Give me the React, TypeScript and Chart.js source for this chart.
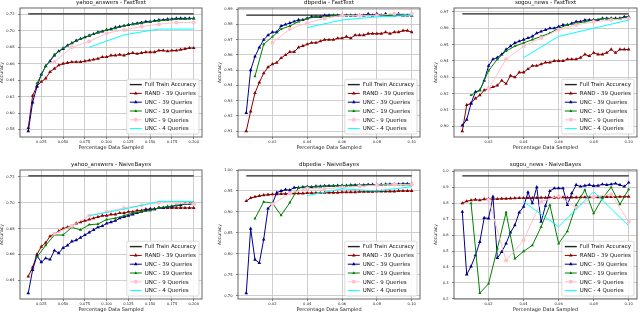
import React, { useEffect, useRef } from 'react';
import { Chart, registerables } from 'chart.js';

Chart.register(...registerables);
Chart.defaults.font.family = '"DejaVu Sans", sans-serif';

// ---------- x values (fraction of data sampled) ----------
const X39_YAHOO = [0.01, 0.015, 0.02, 0.025, 0.03, 0.035, 0.04, 0.045, 0.05, 0.055, 0.06, 0.065, 0.07, 0.075, 0.08, 0.085, 0.09, 0.095, 0.1, 0.105, 0.11, 0.115, 0.12, 0.125, 0.13, 0.135, 0.14, 0.145, 0.15, 0.155, 0.16, 0.165, 0.17, 0.175, 0.18, 0.185, 0.19, 0.195, 0.2];
const X19_YAHOO = [0.02, 0.03, 0.04, 0.05, 0.06, 0.07, 0.08, 0.09, 0.1, 0.11, 0.12, 0.13, 0.14, 0.15, 0.16, 0.17, 0.18, 0.19, 0.2];
const X9_YAHOO = [0.04, 0.06, 0.08, 0.1, 0.12, 0.14, 0.16, 0.18, 0.2];
const X4_YAHOO = [0.08, 0.12, 0.16, 0.2];

const X39_SMALL = [0.005, 0.0075, 0.01, 0.0125, 0.015, 0.0175, 0.02, 0.0225, 0.025, 0.0275, 0.03, 0.0325, 0.035, 0.0375, 0.04, 0.0425, 0.045, 0.0475, 0.05, 0.0525, 0.055, 0.0575, 0.06, 0.0625, 0.065, 0.0675, 0.07, 0.0725, 0.075, 0.0775, 0.08, 0.0825, 0.085, 0.0875, 0.09, 0.0925, 0.095, 0.0975, 0.1];
const X19_SMALL = [0.01, 0.015, 0.02, 0.025, 0.03, 0.035, 0.04, 0.045, 0.05, 0.055, 0.06, 0.065, 0.07, 0.075, 0.08, 0.085, 0.09, 0.095, 0.1];
const X9_SMALL = [0.02, 0.03, 0.04, 0.05, 0.06, 0.07, 0.08, 0.09, 0.1];
const X4_SMALL = [0.04, 0.06, 0.08, 0.1];

// ---------- tick labels ----------
const XTICKS_YAHOO = [0.025, 0.05, 0.075, 0.1, 0.125, 0.15, 0.175, 0.2];
const XTICKS_SMALL = [0.02, 0.04, 0.06, 0.08, 0.1];
const YTICKS_YAHOO_FT = [0.58, 0.6, 0.62, 0.64, 0.66, 0.68, 0.7, 0.72];
const YTICKS_DBPEDIA_FT = [0.91, 0.92, 0.93, 0.94, 0.95, 0.96, 0.97, 0.98, 0.99];
const YTICKS_SOGOU_FT = [0.9, 0.91, 0.92, 0.93, 0.94, 0.95, 0.96, 0.97];
const YTICKS_YAHOO_NB = [0.64, 0.66, 0.68, 0.7, 0.72];
const YTICKS_DBPEDIA_NB = [0.7, 0.75, 0.8, 0.85, 0.9, 0.95, 1.0];
const YTICKS_SOGOU_NB = [0.2, 0.3, 0.4, 0.5, 0.6, 0.7, 0.8, 0.9, 1.0];

const SERIES_LABELS = ['Full Train Accuracy', 'RAND - 39 Queries', 'UNC - 39 Queries', 'UNC - 19 Queries', 'UNC - 9 Queries', 'UNC - 4 Queries'];

// ---------- yahoo_answers - FastText ----------
const YAHOO_FT_FULL = 0.7205;
const YAHOO_FT_RAND = [0.582, 0.621, 0.633, 0.638, 0.642, 0.650, 0.654, 0.658, 0.660, 0.661, 0.662, 0.662, 0.662, 0.663, 0.664, 0.665, 0.666, 0.668, 0.668, 0.670, 0.670, 0.671, 0.670, 0.672, 0.673, 0.672, 0.673, 0.674, 0.674, 0.674, 0.676, 0.676, 0.675, 0.676, 0.676, 0.677, 0.678, 0.679, 0.679];
const YAHOO_FT_UNC39 = [0.578, 0.613, 0.632, 0.647, 0.657, 0.663, 0.670, 0.675, 0.678, 0.682, 0.685, 0.688, 0.690, 0.692, 0.694, 0.696, 0.698, 0.699, 0.701, 0.702, 0.704, 0.705, 0.706, 0.707, 0.708, 0.709, 0.710, 0.711, 0.711, 0.712, 0.713, 0.713, 0.714, 0.714, 0.715, 0.715, 0.715, 0.715, 0.715];
const YAHOO_FT_UNC19 = [0.636, 0.657, 0.671, 0.679, 0.685, 0.690, 0.694, 0.698, 0.701, 0.703, 0.706, 0.708, 0.709, 0.711, 0.712, 0.713, 0.714, 0.714, 0.715];
const YAHOO_FT_UNC9 = [0.662, 0.680, 0.687, 0.697, 0.701, 0.705, 0.708, 0.710, 0.710];
const YAHOO_FT_UNC4 = [0.680, 0.695, 0.702, 0.702];

// ---------- dbpedia - FastText ----------
const DBPEDIA_FT_FULL = 0.9862;
const DBPEDIA_FT_RAND = [0.910, 0.923, 0.935, 0.942, 0.948, 0.952, 0.954, 0.955, 0.958, 0.960, 0.962, 0.962, 0.965, 0.966, 0.967, 0.968, 0.968, 0.969, 0.970, 0.970, 0.970, 0.971, 0.971, 0.972, 0.971, 0.973, 0.973, 0.973, 0.974, 0.974, 0.974, 0.974, 0.975, 0.974, 0.975, 0.975, 0.976, 0.976, 0.975];
const DBPEDIA_FT_UNC39 = [0.922, 0.950, 0.959, 0.965, 0.970, 0.973, 0.975, 0.975, 0.979, 0.980, 0.981, 0.982, 0.983, 0.983, 0.984, 0.985, 0.985, 0.985, 0.986, 0.986, 0.986, 0.986, 0.986, 0.986, 0.986, 0.986, 0.986, 0.986, 0.987, 0.986, 0.987, 0.986, 0.987, 0.986, 0.986, 0.987, 0.986, 0.986, 0.986];
const DBPEDIA_FT_UNC19 = [0.946, 0.967, 0.972, 0.977, 0.979, 0.982, 0.984, 0.985, 0.985, 0.986, 0.986, 0.986, 0.986, 0.986, 0.986, 0.986, 0.986, 0.986, 0.986];
const DBPEDIA_FT_UNC9 = [0.968, 0.977, 0.981, 0.984, 0.986, 0.986, 0.986, 0.987, 0.987];
const DBPEDIA_FT_UNC4 = [0.978, 0.983, 0.985, 0.986];

// ---------- sogou_news - FastText ----------
const SOGOU_FT_FULL = 0.9688;
const SOGOU_FT_RAND = [0.897, 0.913, 0.914, 0.917, 0.919, 0.922, 0.923, 0.924, 0.925, 0.928, 0.926, 0.931, 0.930, 0.933, 0.933, 0.935, 0.937, 0.937, 0.938, 0.939, 0.939, 0.940, 0.940, 0.940, 0.941, 0.941, 0.941, 0.942, 0.944, 0.943, 0.945, 0.944, 0.944, 0.945, 0.947, 0.945, 0.947, 0.947, 0.947];
const SOGOU_FT_UNC39 = [0.9005, 0.904, 0.914, 0.921, 0.922, 0.928, 0.937, 0.941, 0.942, 0.944, 0.947, 0.949, 0.951, 0.952, 0.953, 0.954, 0.955, 0.957, 0.958, 0.959, 0.960, 0.960, 0.961, 0.962, 0.962, 0.963, 0.964, 0.964, 0.965, 0.965, 0.965, 0.965, 0.966, 0.966, 0.966, 0.966, 0.966, 0.967, 0.967];
const SOGOU_FT_UNC19 = [0.919, 0.922, 0.934, 0.941, 0.946, 0.949, 0.951, 0.953, 0.955, 0.957, 0.960, 0.962, 0.963, 0.964, 0.965, 0.966, 0.966, 0.966, 0.967];
const SOGOU_FT_UNC9 = [0.923, 0.941, 0.949, 0.954, 0.959, 0.962, 0.964, 0.965, 0.966];
const SOGOU_FT_UNC4 = [0.942, 0.955, 0.960, 0.965];

// ---------- yahoo_answers - NaiveBayes ----------
const YAHOO_NB_FULL = 0.7208;
const YAHOO_NB_RAND = [0.643, 0.650, 0.660, 0.666, 0.669, 0.674, 0.676, 0.678, 0.680, 0.681, 0.682, 0.684, 0.685, 0.686, 0.687, 0.688, 0.689, 0.690, 0.690, 0.691, 0.691, 0.692, 0.692, 0.693, 0.693, 0.694, 0.694, 0.695, 0.695, 0.695, 0.696, 0.696, 0.696, 0.696, 0.696, 0.696, 0.696, 0.696, 0.696];
const YAHOO_NB_UNC39 = [0.630, 0.648, 0.659, 0.654, 0.657, 0.656, 0.663, 0.661, 0.665, 0.667, 0.670, 0.671, 0.673, 0.675, 0.677, 0.679, 0.681, 0.682, 0.684, 0.685, 0.686, 0.688, 0.689, 0.690, 0.691, 0.692, 0.693, 0.694, 0.695, 0.695, 0.696, 0.696, 0.697, 0.697, 0.698, 0.698, 0.699, 0.699, 0.699];
const YAHOO_NB_UNC19 = [0.658, 0.667, 0.675, 0.675, 0.681, 0.679, 0.683, 0.6835, 0.687, 0.688, 0.690, 0.692, 0.693, 0.694, 0.696, 0.697, 0.698, 0.699, 0.700];
const YAHOO_NB_UNC9 = [0.676, 0.682, 0.690, 0.693, 0.696, 0.698, 0.700, 0.700, 0.699];
const YAHOO_NB_UNC4 = [0.690, 0.695, 0.701, 0.701];

// ---------- dbpedia - NaiveBayes ----------
const DBPEDIA_NB_FULL = 0.986;
const DBPEDIA_NB_RAND = [0.926, 0.933, 0.936, 0.938, 0.940, 0.941, 0.942, 0.942, 0.943, 0.943, 0.944, 0.944, 0.944, 0.944, 0.945, 0.945, 0.945, 0.945, 0.946, 0.946, 0.946, 0.946, 0.947, 0.947, 0.947, 0.947, 0.948, 0.948, 0.948, 0.948, 0.949, 0.949, 0.949, 0.949, 0.949, 0.950, 0.950, 0.950, 0.950];
const DBPEDIA_NB_UNC39 = [0.706, 0.860, 0.786, 0.778, 0.834, 0.908, 0.920, 0.946, 0.950, 0.953, 0.952, 0.958, 0.958, 0.959, 0.960, 0.959, 0.961, 0.961, 0.962, 0.962, 0.962, 0.963, 0.963, 0.963, 0.964, 0.964, 0.964, 0.964, 0.965, 0.965, 0.965, 0.965, 0.966, 0.966, 0.966, 0.966, 0.967, 0.967, 0.967];
const DBPEDIA_NB_UNC19 = [0.884, 0.924, 0.921, 0.892, 0.922, 0.958, 0.960, 0.961, 0.961, 0.962, 0.963, 0.963, 0.964, 0.964, 0.964, 0.965, 0.965, 0.965, 0.964];
const DBPEDIA_NB_UNC9 = [0.918, 0.944, 0.956, 0.955, 0.958, 0.961, 0.964, 0.965, 0.966];
const DBPEDIA_NB_UNC4 = [0.939, 0.955, 0.950, 0.960];

// ---------- sogou_news - NaiveBayes ----------
const SOGOU_NB_FULL = 0.971;
const SOGOU_NB_RAND = [0.799, 0.812, 0.818, 0.822, 0.818, 0.825, 0.826, 0.826, 0.826, 0.828, 0.828, 0.830, 0.831, 0.832, 0.832, 0.832, 0.833, 0.833, 0.834, 0.834, 0.835, 0.834, 0.835, 0.836, 0.835, 0.836, 0.836, 0.837, 0.837, 0.837, 0.838, 0.838, 0.838, 0.839, 0.839, 0.839, 0.840, 0.840, 0.841];
const SOGOU_NB_UNC39 = [0.746, 0.353, 0.404, 0.473, 0.557, 0.708, 0.704, 0.841, 0.456, 0.494, 0.547, 0.616, 0.662, 0.742, 0.778, 0.868, 0.799, 0.900, 0.683, 0.784, 0.876, 0.893, 0.893, 0.893, 0.788, 0.862, 0.914, 0.904, 0.910, 0.914, 0.908, 0.910, 0.918, 0.914, 0.918, 0.923, 0.914, 0.904, 0.929];
const SOGOU_NB_UNC19 = [0.799, 0.236, 0.295, 0.515, 0.742, 0.452, 0.498, 0.536, 0.652, 0.788, 0.547, 0.624, 0.788, 0.883, 0.736, 0.830, 0.900, 0.792, 0.887];
const SOGOU_NB_UNC9 = [0.820, 0.440, 0.568, 0.809, 0.845, 0.771, 0.841, 0.855, 0.683];
const SOGOU_NB_UNC4 = [0.809, 0.652, 0.872, 0.658];

// ---------- styling ----------
const COLORS = ['#222222', '#8b0000', '#00008b', '#008000', '#ffc0cb', '#00ffff'];
const POINT_STYLES = ['none', 'triangle', 'triangle', 'triangle', 'circle', 'none'];
const POINT_RADII = [0, 2.1, 2.1, 1.8, 2.0, 0];

const Y_AXIS_W = 22;
const TOP_PAD = 8;
const RIGHT_PAD = 3;
const X_AXIS_H = 14;
const PLOT_H = 129;

type PanelDef = {
  title: string;
  left: number;
  top: number;
  width: number;
  xs: number[][];
  ys: number[][];
  full: number;
  xTicks: number[];
  xDec: number;
  yTicks: number[];
  yDec: number;
};

const PANELS: PanelDef[] = [
  { title: 'yahoo_answers - FastText', left: 20, top: 8, width: 183, xs: [X39_YAHOO, X39_YAHOO, X19_YAHOO, X9_YAHOO, X4_YAHOO], ys: [YAHOO_FT_RAND, YAHOO_FT_UNC39, YAHOO_FT_UNC19, YAHOO_FT_UNC9, YAHOO_FT_UNC4], full: YAHOO_FT_FULL, xTicks: XTICKS_YAHOO, xDec: 3, yTicks: YTICKS_YAHOO_FT, yDec: 2 },
  { title: 'dbpedia - FastText', left: 238, top: 8, width: 183, xs: [X39_SMALL, X39_SMALL, X19_SMALL, X9_SMALL, X4_SMALL], ys: [DBPEDIA_FT_RAND, DBPEDIA_FT_UNC39, DBPEDIA_FT_UNC19, DBPEDIA_FT_UNC9, DBPEDIA_FT_UNC4], full: DBPEDIA_FT_FULL, xTicks: XTICKS_SMALL, xDec: 2, yTicks: YTICKS_DBPEDIA_FT, yDec: 2 },
  { title: 'sogou_news - FastText', left: 454, top: 8, width: 184, xs: [X39_SMALL, X39_SMALL, X19_SMALL, X9_SMALL, X4_SMALL], ys: [SOGOU_FT_RAND, SOGOU_FT_UNC39, SOGOU_FT_UNC19, SOGOU_FT_UNC9, SOGOU_FT_UNC4], full: SOGOU_FT_FULL, xTicks: XTICKS_SMALL, xDec: 2, yTicks: YTICKS_SOGOU_FT, yDec: 2 },
  { title: 'yahoo_answers - NaiveBayes', left: 20, top: 170, width: 183, xs: [X39_YAHOO, X39_YAHOO, X19_YAHOO, X9_YAHOO, X4_YAHOO], ys: [YAHOO_NB_RAND, YAHOO_NB_UNC39, YAHOO_NB_UNC19, YAHOO_NB_UNC9, YAHOO_NB_UNC4], full: YAHOO_NB_FULL, xTicks: XTICKS_YAHOO, xDec: 3, yTicks: YTICKS_YAHOO_NB, yDec: 2 },
  { title: 'dbpedia - NaiveBayes', left: 238, top: 170, width: 183, xs: [X39_SMALL, X39_SMALL, X19_SMALL, X9_SMALL, X4_SMALL], ys: [DBPEDIA_NB_RAND, DBPEDIA_NB_UNC39, DBPEDIA_NB_UNC19, DBPEDIA_NB_UNC9, DBPEDIA_NB_UNC4], full: DBPEDIA_NB_FULL, xTicks: XTICKS_SMALL, xDec: 2, yTicks: YTICKS_DBPEDIA_NB, yDec: 2 },
  { title: 'sogou_news - NaiveBayes', left: 454, top: 170, width: 184, xs: [X39_SMALL, X39_SMALL, X19_SMALL, X9_SMALL, X4_SMALL], ys: [SOGOU_NB_RAND, SOGOU_NB_UNC39, SOGOU_NB_UNC19, SOGOU_NB_UNC9, SOGOU_NB_UNC4], full: SOGOU_NB_FULL, xTicks: XTICKS_SMALL, xDec: 2, yTicks: YTICKS_SOGOU_NB, yDec: 1 },
];

function drawMarker(ctx: CanvasRenderingContext2D, style: string, x: number, y: number, r: number, color: string) {
  if (style === 'none' || r <= 0) return;
  ctx.fillStyle = color;
  ctx.beginPath();
  if (style === 'triangle') {
    ctx.moveTo(x, y - r);
    ctx.lineTo(x + r * 0.866, y + r * 0.5);
    ctx.lineTo(x - r * 0.866, y + r * 0.5);
    ctx.closePath();
  } else {
    ctx.arc(x, y, r, 0, Math.PI * 2);
  }
  ctx.fill();
}

const decorPlugin = {
  id: 'decor',
  afterDatasetsDraw(chart: any) {
    const { ctx, chartArea: ca } = chart;
    ctx.save();
    ctx.strokeStyle = '#555555';
    ctx.lineWidth = 0.9;
    ctx.strokeRect(ca.left, ca.top, ca.right - ca.left, ca.bottom - ca.top);
    ctx.restore();
  },
  afterDraw(chart: any) {
    const { ctx, chartArea: ca } = chart;
    const title = chart.options.plugins.decor.title;
    ctx.save();
    ctx.fillStyle = '#111111';
    ctx.font = '5.5px "DejaVu Sans"';
    ctx.textAlign = 'center';
    ctx.textBaseline = 'middle';
    ctx.fillText(title, (ca.left + ca.right) / 2, ca.top - 5);

    const fs = 5.5;
    const rowH = 8.8;
    ctx.font = `${fs}px "DejaVu Sans"`;
    const datasets = chart.data.datasets;
    const marks = chart.options.plugins.decor.marks;
    let maxW = 0;
    datasets.forEach((d: any) => { maxW = Math.max(maxW, ctx.measureText(d.label).width); });
    const boxW = 3 + 12 + 3 + maxW + 3;
    const boxH = datasets.length * rowH + 2;
    const right = ca.right - 3;
    const bottom = ca.bottom - 3;
    const left = right - boxW;
    const top = bottom - boxH;
    ctx.fillStyle = 'rgba(255,255,255,0.85)';
    ctx.strokeStyle = '#cccccc';
    ctx.lineWidth = 0.7;
    ctx.beginPath();
    const rr = 1.5;
    ctx.moveTo(left + rr, top);
    ctx.lineTo(right - rr, top);
    ctx.quadraticCurveTo(right, top, right, top + rr);
    ctx.lineTo(right, bottom - rr);
    ctx.quadraticCurveTo(right, bottom, right - rr, bottom);
    ctx.lineTo(left + rr, bottom);
    ctx.quadraticCurveTo(left, bottom, left, bottom - rr);
    ctx.lineTo(left, top + rr);
    ctx.quadraticCurveTo(left, top, left + rr, top);
    ctx.closePath();
    ctx.fill();
    ctx.stroke();
    datasets.forEach((d: any, i: number) => {
      const cy = top + 1 + rowH * (i + 0.5);
      const x0 = left + 3;
      const x1 = x0 + 12;
      ctx.strokeStyle = d.borderColor;
      ctx.lineWidth = d.borderWidth;
      ctx.beginPath();
      ctx.moveTo(x0, cy);
      ctx.lineTo(x1, cy);
      ctx.stroke();
      drawMarker(ctx, marks[i], (x0 + x1) / 2, cy, d.pointRadius, d.borderColor);
      ctx.fillStyle = '#111111';
      ctx.textAlign = 'left';
      ctx.textBaseline = 'middle';
      ctx.fillText(d.label, x1 + 3, cy + 0.3);
    });
    ctx.restore();
  },
};

function buildConfig(p: PanelDef): any {
  const allY = [p.full, ...p.ys.flat()];
  const allX = p.xs.flat();
  const yMinD = Math.min(...allY);
  const yMaxD = Math.max(...allY);
  const xMinD = Math.min(...allX);
  const xMaxD = Math.max(...allX);
  const yM = (yMaxD - yMinD) * 0.05;
  const xM = (xMaxD - xMinD) * 0.05;

  const xFirst = p.xs[0][0];
  const xLast = p.xs[0][p.xs[0].length - 1];

  const datasets: any[] = [];
  datasets.push({
    label: SERIES_LABELS[0],
    data: [{ x: xFirst, y: p.full }, { x: xLast, y: p.full }],
    borderColor: COLORS[0],
    backgroundColor: COLORS[0],
    borderWidth: 1.4,
    pointRadius: 0,
    order: 10,
  });
  p.ys.forEach((ys, i) => {
    const k = i + 1;
    datasets.push({
      label: SERIES_LABELS[k],
      data: ys.map((y, j) => ({ x: p.xs[i][j], y })),
      borderColor: COLORS[k],
      backgroundColor: COLORS[k],
      pointBackgroundColor: COLORS[k],
      pointBorderColor: COLORS[k],
      pointBorderWidth: 0,
      borderWidth: 1,
      pointRadius: POINT_RADII[k],
      pointStyle: POINT_STYLES[k] === 'none' ? 'circle' : POINT_STYLES[k],
      tension: 0,
      order: 10 - k,
    });
  });

  const grid = { color: '#c8c8c8', lineWidth: 0.9, tickLength: 2, tickColor: '#333333', tickWidth: 0.6 };

  return {
    type: 'line',
    data: { datasets },
    plugins: [decorPlugin],
    options: {
      animation: false,
      responsive: false,
      devicePixelRatio: 1,
      layout: { padding: { top: TOP_PAD, right: RIGHT_PAD, left: 0, bottom: 0 } },
      plugins: {
        legend: { display: false },
        tooltip: { enabled: false },
        title: { display: false },
        decor: { title: p.title, marks: POINT_STYLES },
      },
      scales: {
        x: {
          type: 'linear',
          min: xMinD - xM,
          max: xMaxD + xM,
          afterBuildTicks: (s: any) => { s.ticks = p.xTicks.map((v) => ({ value: v })); },
          afterFit: (s: any) => { s.height = X_AXIS_H; },
          ticks: {
            autoSkip: false,
            maxRotation: 0,
            minRotation: 0,
            padding: 0.5,
            color: '#222222',
            font: { size: 3.7 },
            callback: (v: any) => Number(v).toFixed(p.xDec),
          },
          grid,
          border: { display: false },
          title: { display: true, text: 'Percentage Data Sampled', color: '#222222', font: { size: 5 }, padding: { top: 0, bottom: 0 } },
        },
        y: {
          type: 'linear',
          min: yMinD - yM,
          max: yMaxD + yM,
          afterBuildTicks: (s: any) => { s.ticks = p.yTicks.map((v) => ({ value: v })); },
          afterFit: (s: any) => { s.width = Y_AXIS_W; },
          ticks: {
            autoSkip: false,
            padding: 3.5,
            color: '#222222',
            font: { size: 3.7 },
            callback: (v: any) => Number(v).toFixed(p.yDec),
          },
          grid,
          border: { display: false },
          title: { display: true, text: 'Accuracy', color: '#222222', font: { size: 4.6 }, padding: { top: 1, bottom: 0 } },
        },
      },
    },
  };
}

function PanelChart({ p }: { p: PanelDef }) {
  const ref = useRef<HTMLCanvasElement>(null);
  const W = Y_AXIS_W + p.width + RIGHT_PAD;
  const H = TOP_PAD + PLOT_H + X_AXIS_H;
  useEffect(() => {
    if (!ref.current) return;
    const chart = new Chart(ref.current, buildConfig(p));
    return () => chart.destroy();
  }, [p]);
  return (
    <canvas
      ref={ref}
      width={W}
      height={H}
      style={{ position: 'absolute', left: p.left - Y_AXIS_W, top: p.top - TOP_PAD, width: W, height: H }}
    />
  );
}

export default function App() {
  return (
    <div style={{ position: 'fixed', left: 0, top: 0, width: 640, height: 313, background: '#ffffff', overflow: 'hidden' }}>
      {PANELS.map((p, i) => (
        <PanelChart key={i} p={p} />
      ))}
    </div>
  );
}
